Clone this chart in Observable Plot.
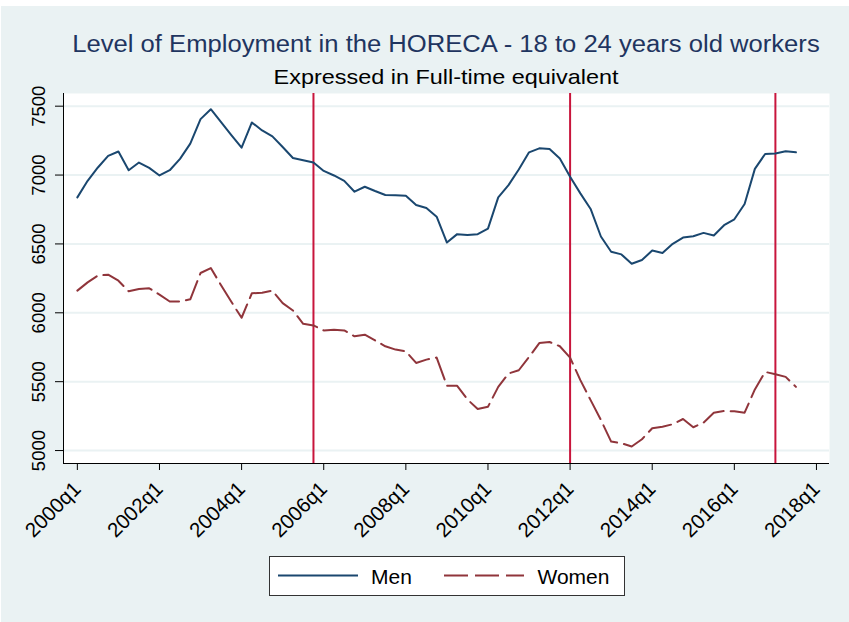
<!DOCTYPE html>
<html>
<head>
<meta charset="utf-8">
<script src="https://cdn.jsdelivr.net/npm/d3@7"></script>
<script src="https://cdn.jsdelivr.net/npm/@observablehq/plot@0.6"></script>
<style>
  body { margin: 0; background: #ffffff; font-family: Arial, "Liberation Sans", sans-serif; }
  #page { position: relative; width: 849px; height: 622px; overflow: hidden; }
  #bg { position: absolute; left: 1px; top: 6px; width: 848px; height: 616px; background: #eaf2f3; }
  .ttl { position: absolute; left: 0; width: 892px; text-align: center; line-height: 1; white-space: nowrap; }
  #title { top: 32.8px; font-size: 23.5px; color: #1f3560; transform: scaleX(1.09); transform-origin: 446px 0; }
  #subtitle { top: 65.5px; font-size: 21px; color: #000; transform: scaleX(1.115); transform-origin: 446px 0; }
  #chart { position: absolute; left: 0; top: 80px; }
  #legend { position: absolute; left: 269px; top: 556px; }
</style>
</head>
<body>
<div id="page">
  <div id="bg"></div>
  <div id="title" class="ttl">Level of Employment in the HORECA - 18 to 24 years old workers</div>
  <div id="subtitle" class="ttl">Expressed in Full-time equivalent</div>
  <div id="chart"></div>
  <div id="legend"></div>
</div>
<script>
// ---- Data (quarterly, starting 2000q1) ----
const startYear = 2000;
const seriesNames = ["Men", "Women"];
const men = [
  6838, 6958, 7055, 7139, 7171, 7035, 7091, 7052,
  6997, 7035, 7117, 7228, 7406, 7478, 7384, 7290,
  7199, 7382, 7324, 7281, 7204, 7124, 7108, 7091,
  7030, 6997, 6958, 6879, 6915, 6884, 6855, 6853,
  6850, 6783, 6761, 6698, 6510, 6571, 6564, 6571,
  6611, 6838, 6927, 7040, 7165, 7194, 7189, 7120,
  6988, 6867, 6754, 6554, 6443, 6424, 6356, 6383,
  6452, 6434, 6501, 6546, 6556, 6580, 6561, 6636,
  6679, 6790, 7045, 7153, 7156, 7173, 7165
];
const women = [
  6161, 6221, 6270, 6277, 6233, 6156, 6173, 6178,
  6132, 6082, 6082, 6098, 6289, 6325, 6200, 6080,
  5964, 6142, 6145, 6161, 6070, 6017, 5920, 5908,
  5872, 5877, 5872, 5829, 5841, 5800, 5757, 5733,
  5720, 5636, 5660, 5675, 5470, 5470, 5371, 5301,
  5318, 5462, 5559, 5583, 5679, 5780, 5788, 5757,
  5675, 5511, 5366, 5222, 5065, 5053, 5029, 5082,
  5162, 5173, 5191, 5229, 5169, 5203, 5275, 5287,
  5285, 5275, 5444, 5571, 5554, 5535, 5462
];
const xTickLabels = ["2000q1","2002q1","2004q1","2006q1","2008q1","2010q1","2012q1","2014q1","2016q1","2018q1"];
const yTicks = [5000, 5500, 6000, 6500, 7000, 7500];
const eventPeriods = ["2005q4", "2012q1", "2017q1"];

// ---- helpers ----
const toIndex = s => { const [y, q] = s.split("q").map(Number); return (y - startYear) * 4 + (q - 1); };
const toLabel = i => `${startYear + Math.floor(i / 4)}q${(i % 4) + 1}`;

const data = men.map((m, i) => ({q: i, men: m, women: women[i]}));
const xTicks = xTickLabels.map(toIndex);
const events = eventPeriods.map(toIndex);
const xDomain = [-1.35, 73.27];
const yDomain = [4906, 7592];

const font = "Arial, 'Liberation Sans', sans-serif";
const colors = {men: "#1a476f", women: "#90353b", event: "#c8153c", grid: "#eaf2f3"};
const dash = "24,7";

const chart = Plot.plot({
  width: 849,
  height: 460,
  marginTop: 13,
  marginBottom: 77,
  marginLeft: 63,
  marginRight: 20,
  style: {background: "transparent", fontFamily: font, color: "#000", overflow: "visible"},
  x: {domain: xDomain},
  y: {domain: yDomain},
  marks: [
    Plot.frame({fill: "white", stroke: "none"}),
    Plot.ruleY(yTicks, {stroke: colors.grid, strokeWidth: 2}),
    Plot.ruleX(events, {stroke: colors.event, strokeWidth: 2}),
    Plot.line(data, {x: "q", y: "men", stroke: colors.men, strokeWidth: 2}),
    Plot.line(data, {x: "q", y: "women", stroke: colors.women, strokeWidth: 2, strokeDasharray: dash}),
    Plot.ruleX([xDomain[0]], {stroke: "#000", strokeWidth: 1}),
    Plot.ruleY([yDomain[0]], {stroke: "#000", strokeWidth: 1}),
    Plot.axisY({ticks: yTicks, tickFormat: d => String(d), tickSize: 8, tickPadding: 11, tickRotate: -90, fontSize: 18.5, label: null}),
    Plot.axisX({ticks: xTicks, tickFormat: toLabel, tickSize: 7, tickPadding: 15, tickRotate: -45, fontSize: 20.5, label: null})
  ]
});
document.getElementById("chart").appendChild(chart);

// ---- legend ----
const lw = 356, lh = 40;
const lg = d3.select("#legend").append("svg").attr("width", lw).attr("height", lh)
  .style("font-family", font).style("overflow", "visible");
lg.append("rect").attr("x", 0.5).attr("y", 0.5).attr("width", lw - 1).attr("height", lh - 1)
  .attr("fill", "white").attr("stroke", "#333").attr("stroke-width", 1);
const items = [
  {name: seriesNames[0], color: colors.men, dash: null, x0: 9, x1: 89, tx: 102},
  {name: seriesNames[1], color: colors.women, dash: dash, x0: 175, x1: 255, tx: 268.5}
];
items.forEach(it => {
  lg.append("line").attr("x1", it.x0).attr("x2", it.x1).attr("y1", 19.5).attr("y2", 19.5)
    .attr("stroke", it.color).attr("stroke-width", 2).attr("stroke-dasharray", it.dash);
  lg.append("text").attr("x", it.tx).attr("y", 28).attr("font-size", 21).attr("fill", "#000").text(it.name);
});
</script>
</body>
</html>
